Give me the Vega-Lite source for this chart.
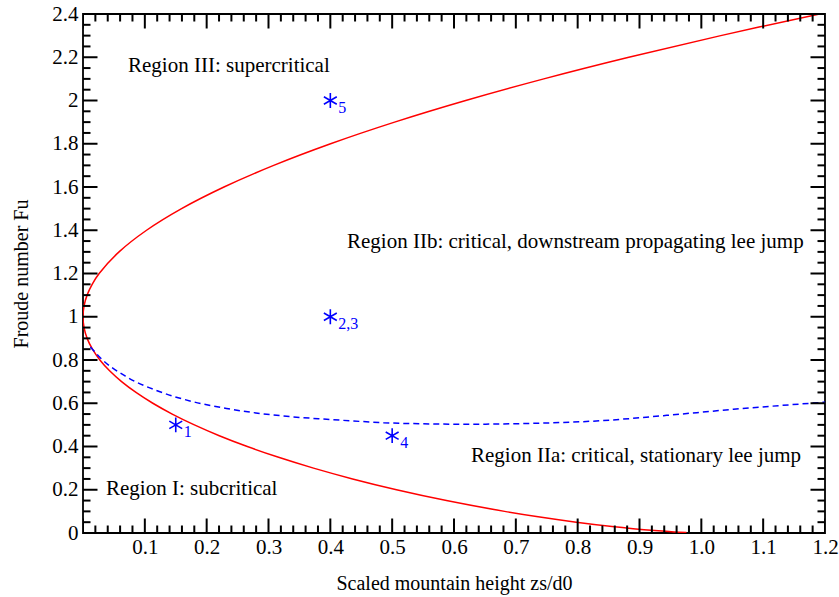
{
  "$schema": "https://vega.github.io/schema/vega-lite/v6.json",
  "width": 742,
  "height": 519,
  "autosize": {"type": "none"},
  "padding": {"left": 83, "top": 14, "right": 14, "bottom": 64},
  "background": "white",
  "config": {
    "view": {"stroke": "black", "strokeWidth": 1.8},
    "font": "Liberation Serif",
    "axis": {"domain": false, "grid": false, "ticks": false, "tickSize": 0, "labelColor": "black", "titleColor": "black", "labelFont": "Liberation Serif", "titleFont": "Liberation Serif", "labelFontSize": 21, "titleFontSize": 20, "titleFontWeight": "normal"}
  },
  "datasets": {
    "xticks": [
      {"v": 0, "kind": "major"}, {"v": 0.02, "kind": "minor"}, {"v": 0.04, "kind": "minor"}, {"v": 0.06, "kind": "minor"}, {"v": 0.08, "kind": "minor"},
      {"v": 0.1, "kind": "major"}, {"v": 0.12, "kind": "minor"}, {"v": 0.14, "kind": "minor"}, {"v": 0.16, "kind": "minor"}, {"v": 0.18, "kind": "minor"},
      {"v": 0.2, "kind": "major"}, {"v": 0.22, "kind": "minor"}, {"v": 0.24, "kind": "minor"}, {"v": 0.26, "kind": "minor"}, {"v": 0.28, "kind": "minor"},
      {"v": 0.3, "kind": "major"}, {"v": 0.32, "kind": "minor"}, {"v": 0.34, "kind": "minor"}, {"v": 0.36, "kind": "minor"}, {"v": 0.38, "kind": "minor"},
      {"v": 0.4, "kind": "major"}, {"v": 0.42, "kind": "minor"}, {"v": 0.44, "kind": "minor"}, {"v": 0.46, "kind": "minor"}, {"v": 0.48, "kind": "minor"},
      {"v": 0.5, "kind": "major"}, {"v": 0.52, "kind": "minor"}, {"v": 0.54, "kind": "minor"}, {"v": 0.56, "kind": "minor"}, {"v": 0.58, "kind": "minor"},
      {"v": 0.6, "kind": "major"}, {"v": 0.62, "kind": "minor"}, {"v": 0.64, "kind": "minor"}, {"v": 0.66, "kind": "minor"}, {"v": 0.68, "kind": "minor"},
      {"v": 0.7, "kind": "major"}, {"v": 0.72, "kind": "minor"}, {"v": 0.74, "kind": "minor"}, {"v": 0.76, "kind": "minor"}, {"v": 0.78, "kind": "minor"},
      {"v": 0.8, "kind": "major"}, {"v": 0.82, "kind": "minor"}, {"v": 0.84, "kind": "minor"}, {"v": 0.86, "kind": "minor"}, {"v": 0.88, "kind": "minor"},
      {"v": 0.9, "kind": "major"}, {"v": 0.92, "kind": "minor"}, {"v": 0.94, "kind": "minor"}, {"v": 0.96, "kind": "minor"}, {"v": 0.98, "kind": "minor"},
      {"v": 1.0, "kind": "major"}, {"v": 1.02, "kind": "minor"}, {"v": 1.04, "kind": "minor"}, {"v": 1.06, "kind": "minor"}, {"v": 1.08, "kind": "minor"},
      {"v": 1.1, "kind": "major"}, {"v": 1.12, "kind": "minor"}, {"v": 1.14, "kind": "minor"}, {"v": 1.16, "kind": "minor"}, {"v": 1.18, "kind": "minor"},
      {"v": 1.2, "kind": "major"}
    ],
    "yticks": [
      {"v": 0, "kind": "major"}, {"v": 0.05, "kind": "minor"}, {"v": 0.1, "kind": "minor"}, {"v": 0.15, "kind": "minor"},
      {"v": 0.2, "kind": "major"}, {"v": 0.25, "kind": "minor"}, {"v": 0.3, "kind": "minor"}, {"v": 0.35, "kind": "minor"},
      {"v": 0.4, "kind": "major"}, {"v": 0.45, "kind": "minor"}, {"v": 0.5, "kind": "minor"}, {"v": 0.55, "kind": "minor"},
      {"v": 0.6, "kind": "major"}, {"v": 0.65, "kind": "minor"}, {"v": 0.7, "kind": "minor"}, {"v": 0.75, "kind": "minor"},
      {"v": 0.8, "kind": "major"}, {"v": 0.85, "kind": "minor"}, {"v": 0.9, "kind": "minor"}, {"v": 0.95, "kind": "minor"},
      {"v": 1.0, "kind": "major"}, {"v": 1.05, "kind": "minor"}, {"v": 1.1, "kind": "minor"}, {"v": 1.15, "kind": "minor"},
      {"v": 1.2, "kind": "major"}, {"v": 1.25, "kind": "minor"}, {"v": 1.3, "kind": "minor"}, {"v": 1.35, "kind": "minor"},
      {"v": 1.4, "kind": "major"}, {"v": 1.45, "kind": "minor"}, {"v": 1.5, "kind": "minor"}, {"v": 1.55, "kind": "minor"},
      {"v": 1.6, "kind": "major"}, {"v": 1.65, "kind": "minor"}, {"v": 1.7, "kind": "minor"}, {"v": 1.75, "kind": "minor"},
      {"v": 1.8, "kind": "major"}, {"v": 1.85, "kind": "minor"}, {"v": 1.9, "kind": "minor"}, {"v": 1.95, "kind": "minor"},
      {"v": 2.0, "kind": "major"}, {"v": 2.05, "kind": "minor"}, {"v": 2.1, "kind": "minor"}, {"v": 2.15, "kind": "minor"},
      {"v": 2.2, "kind": "major"}, {"v": 2.25, "kind": "minor"}, {"v": 2.3, "kind": "minor"}, {"v": 2.35, "kind": "minor"},
      {"v": 2.4, "kind": "major"}
    ],
    "stars": [
      {"H": 0.15, "F": 0.5, "id": "1"}, {"H": 0.4, "F": 1.0, "id": "2,3"}, {"H": 0.5, "F": 0.45, "id": "4"}, {"H": 0.4, "F": 2.0, "id": "5"}
    ]
  },
  "layer": [
    {
      "data": {"values": [
        {"H": 0.976, "F": 0.002}, {"H": 0.956, "F": 0.005}, {"H": 0.9304, "F": 0.01}, {"H": 0.8897, "F": 0.02}, {"H": 0.8556, "F": 0.03},
        {"H": 0.7977, "F": 0.05}, {"H": 0.7361, "F": 0.075}, {"H": 0.6818, "F": 0.1}, {"H": 0.5878, "F": 0.15}, {"H": 0.507, "F": 0.2},
        {"H": 0.436, "F": 0.25}, {"H": 0.3728, "F": 0.3}, {"H": 0.3163, "F": 0.35}, {"H": 0.2657, "F": 0.4}, {"H": 0.2204, "F": 0.45},
        {"H": 0.1801, "F": 0.5}, {"H": 0.1443, "F": 0.55}, {"H": 0.1129, "F": 0.6}, {"H": 0.0857, "F": 0.65}, {"H": 0.0624, "F": 0.7},
        {"H": 0.043, "F": 0.75}, {"H": 0.0273, "F": 0.8}, {"H": 0.0153, "F": 0.85}, {"H": 0.0067, "F": 0.9}, {"H": 0.0017, "F": 0.95},
        {"H": 0.0, "F": 1.0}, {"H": 0.0017, "F": 1.05}, {"H": 0.0066, "F": 1.1}, {"H": 0.0148, "F": 1.15}, {"H": 0.0261, "F": 1.2},
        {"H": 0.0583, "F": 1.3}, {"H": 0.1028, "F": 1.4}, {"H": 0.1594, "F": 1.5}, {"H": 0.228, "F": 1.6}, {"H": 0.3084, "F": 1.7},
        {"H": 0.4004, "F": 1.8}, {"H": 0.5039, "F": 1.9}, {"H": 0.6189, "F": 2.0}, {"H": 0.7452, "F": 2.1}, {"H": 0.8827, "F": 2.2},
        {"H": 1.0314, "F": 2.3}, {"H": 1.1912, "F": 2.4}, {"H": 1.2, "F": 2.405}
      ]},
      "mark": {"type": "line", "color": "#ff0000", "strokeWidth": 1.5, "clip": true, "interpolate": "catmull-rom"},
      "encoding": {
        "x": {"field": "H", "type": "quantitative", "scale": {"domain": [0, 1.2], "nice": false, "zero": false},
          "axis": {"orient": "bottom", "ticks": false, "tickSize": 0, "values": [0, 0.1, 0.2, 0.3, 0.4, 0.5, 0.6, 0.7, 0.8, 0.9, 1.0, 1.1, 1.2], "labelPadding": 3,
            "labelExpr": "datum.value == 0 ? '' : format(datum.value, '.1f')", "labelFlush": false, "title": "Scaled mountain height zs/d0", "titlePadding": 16}},
        "y": {"field": "F", "type": "quantitative", "scale": {"domain": [0, 2.4], "nice": false, "zero": false},
          "axis": {"orient": "left", "ticks": false, "tickSize": 0, "values": [0, 0.2, 0.4, 0.6, 0.8, 1, 1.2, 1.4, 1.6, 1.8, 2, 2.2, 2.4], "labelPadding": 5,
            "format": ".1~f", "labelFlush": false, "title": "Froude number Fu", "titlePadding": 20}},
        "order": {"field": "F", "type": "quantitative"}
      }
    },
    {
      "data": {"values": [
        {"H": 0.012, "F": 0.86}, {"H": 0.028, "F": 0.81}, {"H": 0.07, "F": 0.723}, {"H": 0.1245, "F": 0.653}, {"H": 0.178, "F": 0.607},
        {"H": 0.232, "F": 0.576}, {"H": 0.286, "F": 0.553}, {"H": 0.34, "F": 0.537}, {"H": 0.394, "F": 0.526}, {"H": 0.448, "F": 0.516},
        {"H": 0.486, "F": 0.51}, {"H": 0.55, "F": 0.505}, {"H": 0.62, "F": 0.503}, {"H": 0.728, "F": 0.507}, {"H": 0.836, "F": 0.519},
        {"H": 0.944, "F": 0.544}, {"H": 1.052, "F": 0.572}, {"H": 1.2, "F": 0.605}
      ]},
      "mark": {"type": "line", "color": "#0000ff", "strokeWidth": 1.5, "strokeDash": [6, 4], "interpolate": "monotone", "clip": true},
      "encoding": {
        "x": {"field": "H", "type": "quantitative"},
        "y": {"field": "F", "type": "quantitative"}
      }
    },
    {
      "data": {"name": "xticks"},
      "mark": {"type": "tick", "orient": "vertical", "color": "black", "thickness": 2, "clip": true, "opacity": 1},
      "encoding": {
        "x": {"field": "v", "type": "quantitative"},
        "y": {"datum": 0, "type": "quantitative"},
        "size": {"field": "kind", "type": "ordinal", "scale": {"domain": ["major", "minor"], "range": [29, 15]}, "legend": null}
      }
    },
    {
      "data": {"name": "xticks"},
      "mark": {"type": "tick", "orient": "vertical", "color": "black", "thickness": 2, "clip": true, "opacity": 1},
      "encoding": {
        "x": {"field": "v", "type": "quantitative"},
        "y": {"datum": 2.4, "type": "quantitative"},
        "size": {"field": "kind", "type": "ordinal", "scale": {"domain": ["major", "minor"], "range": [29, 15]}, "legend": null}
      }
    },
    {
      "data": {"name": "yticks"},
      "mark": {"type": "tick", "orient": "horizontal", "color": "black", "thickness": 2, "clip": true, "opacity": 1},
      "encoding": {
        "y": {"field": "v", "type": "quantitative"},
        "x": {"datum": 0, "type": "quantitative"},
        "size": {"field": "kind", "type": "ordinal", "scale": {"domain": ["major", "minor"], "range": [29, 15]}, "legend": null}
      }
    },
    {
      "data": {"name": "yticks"},
      "mark": {"type": "tick", "orient": "horizontal", "color": "black", "thickness": 2, "clip": true, "opacity": 1},
      "encoding": {
        "y": {"field": "v", "type": "quantitative"},
        "x": {"datum": 1.2, "type": "quantitative"},
        "size": {"field": "kind", "type": "ordinal", "scale": {"domain": ["major", "minor"], "range": [29, 15]}, "legend": null}
      }
    },
    {
      "data": {"name": "stars"},
      "mark": {"type": "point", "shape": "M0,-1L0,1M-0.87,-0.5L0.87,0.5M-0.87,0.5L0.87,-0.5", "filled": false, "stroke": "#0000ff", "strokeWidth": 1.6, "size": 220, "opacity": 1},
      "encoding": {
        "x": {"field": "H", "type": "quantitative"},
        "y": {"field": "F", "type": "quantitative"}
      }
    },
    {
      "data": {"name": "stars"},
      "mark": {"type": "text", "color": "#0000ff", "font": "Liberation Serif", "fontSize": 16, "align": "left", "baseline": "middle", "dx": 8, "dy": 7},
      "encoding": {
        "x": {"field": "H", "type": "quantitative"},
        "y": {"field": "F", "type": "quantitative"},
        "text": {"field": "id"}
      }
    },
    {
      "data": {"values": [
        {"H": 0.0728, "F": 2.16, "label": "Region III: supercritical"},
        {"H": 0.427, "F": 1.346, "label": "Region IIb: critical, downstream propagating lee jump"},
        {"H": 0.6275, "F": 0.356, "label": "Region IIa: critical, stationary lee jump"},
        {"H": 0.0372, "F": 0.203, "label": "Region I: subcritical"}
      ]},
      "mark": {"type": "text", "color": "black", "font": "Liberation Serif", "fontSize": 21, "align": "left", "baseline": "middle"},
      "encoding": {
        "x": {"field": "H", "type": "quantitative"},
        "y": {"field": "F", "type": "quantitative"},
        "text": {"field": "label"}
      }
    }
  ]
}
